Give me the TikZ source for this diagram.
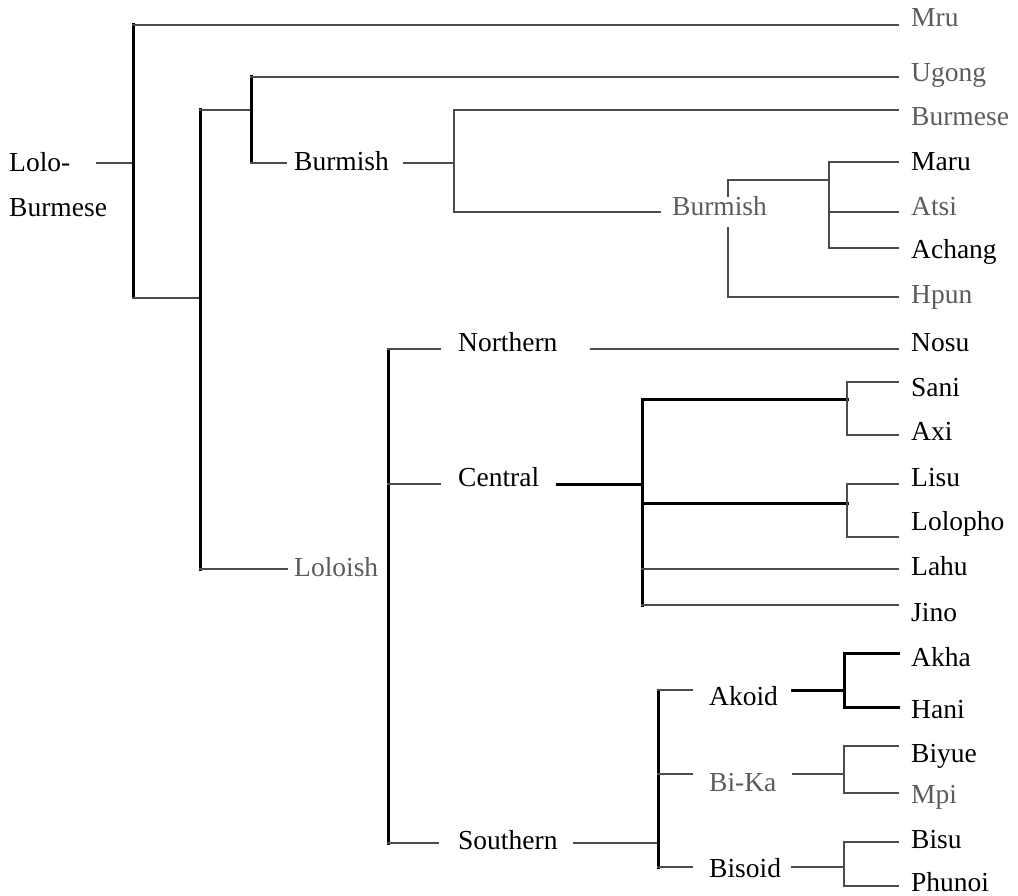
\documentclass[tikz,border=0pt]{standalone}
\usepackage{fontspec}
\setmainfont{Liberation Serif}
\definecolor{linegray}{gray}{0.30}
\definecolor{txtgray}{gray}{0.36}
\newcommand{\lbl}{\fontsize{27.5}{45}\selectfont}

\begin{document}
\begin{tikzpicture}[x=1pt, y=-1pt,
  dk/.style={draw=black, line width=3pt, line cap=rect},
  lt/.style={draw=linegray, line width=2.1pt, line cap=rect},
  lab/.style={anchor=base west, inner sep=0pt, font=\lbl, text=black},
  leaf/.style={anchor=base west, inner xsep=13pt, inner ysep=0pt, font=\lbl, text=black},
  dim/.style={text=txtgray}]
\path[use as bounding box] (0,0) rectangle (1018,896);

% ---------- labels ----------
\node[anchor=north west, inner sep=0pt, align=left, font=\lbl] (lb) at (9,152) {Lolo-\\Burmese};
\node[lab] (bur1) at (294,171) {Burmish};
\node[lab, dim] (bur2) at (672,216) {Burmish};
\node[lab, dim] (lol) at (294,576) {Loloish};
\node[lab] (nor) at (458,352) {Northern};
\node[lab] (cen) at (458,486) {Central};
\node[lab] (sou) at (458,849) {Southern};
\node[lab] (ako) at (709,705) {Akoid};
\node[lab, dim] (bik) at (709,791) {Bi-Ka};
\node[lab] (bis) at (709,877) {Bisoid};

\node[leaf, dim] (mru) at (898,27) {Mru};
\node[leaf, dim] (ugo) at (898,82) {Ugong};
\node[leaf, dim] (bme) at (898,126) {Burmese};
\node[leaf] (mar) at (898,171) {Maru};
\node[leaf, dim] (ats) at (898,216) {Atsi};
\node[leaf] (ach) at (898,259) {Achang};
\node[leaf, dim] (hpu) at (898,304) {Hpun};
\node[leaf] (nos) at (898,351) {Nosu};
\node[leaf] (san) at (898,396) {Sani};
\node[leaf] (axi) at (898,440) {Axi};
\node[leaf] (lis) at (898,486) {Lisu};
\node[leaf] (lop) at (898,530) {Lolopho};
\node[leaf] (lah) at (898,575) {Lahu};
\node[leaf] (jin) at (898,621) {Jino};
\node[leaf] (akh) at (898,666) {Akha};
\node[leaf] (han) at (898,718) {Hani};
\node[leaf] (biy) at (898,762) {Biyue};
\node[leaf, dim] (mpi) at (898,803) {Mpi};
\node[leaf] (bsu) at (898,848) {Bisu};
\node[leaf] (phu) at (898,891) {Phunoi};

% ---------- junction points ----------
\coordinate (r0) at (97,163);
\coordinate (rt) at (133,25);  \coordinate (rj) at (133,163); \coordinate (rb) at (133,298);
\coordinate (at) at (200,110); \coordinate (ab) at (200,298); \coordinate (al) at (200,569);
\coordinate (bt) at (251,77);  \coordinate (bm) at (251,110); \coordinate (bb) at (251,163);
\coordinate (ct) at (454,110); \coordinate (cm) at (454,163); \coordinate (cb) at (454,212);
\coordinate (dt) at (728,180); \coordinate (du) at (728,196);
\coordinate (dl) at (728,228); \coordinate (db) at (728,297);
\coordinate (et) at (829,162); \coordinate (em) at (829,180);
\coordinate (ea) at (829,212); \coordinate (eb) at (829,248);
\coordinate (ft) at (388,349); \coordinate (fm) at (388,484); \coordinate (fb) at (388,843);
\coordinate (gm) at (642,484); \coordinate (gt) at (642,399); \coordinate (g2) at (642,503);
\coordinate (g3) at (642,569); \coordinate (gb) at (642,605);
\coordinate (ht) at (847,382); \coordinate (hm) at (847,399); \coordinate (hb) at (847,435);
\coordinate (it) at (847,484); \coordinate (im) at (847,503); \coordinate (ib) at (847,537);
\coordinate (sj) at (658,843); \coordinate (st) at (658,690); \coordinate (s2) at (658,774);
\coordinate (sb) at (658,867);
\coordinate (kt) at (844,653); \coordinate (km) at (844,690); \coordinate (kb) at (844,707);
\coordinate (lt1) at (844,746); \coordinate (lm) at (844,774); \coordinate (lb1) at (844,793);
\coordinate (mt) at (844,842); \coordinate (mm) at (844,867); \coordinate (mb) at (844,886);

% ---------- Lolo-Burmese root ----------
\draw[lt] (r0) -- (rj);
\draw[dk] (rt) -- (rb);
\draw[lt] (rt) -- (rt -| mru.west);
\draw[lt] (rb) -- (ab);
\draw[dk] (at) -- (al);

% ---------- Burmish branch ----------
\draw[lt] (at) -- (bm);
\draw[dk] (bt) -- (bb);
\draw[lt] (bt) -- (bt -| ugo.west);
\draw[lt, shorten >=8pt] (bb) -- (bb -| bur1.west);
\draw[lt, shorten <=15pt] (bb -| bur1.east) -- (cm);
\draw[lt] (ct) -- (cb);
\draw[lt] (ct) -- (ct -| bme.west);
\draw[lt, shorten >=12pt] (cb) -- (cb -| bur2.west);
\draw[lt] (dt) -- (du);
\draw[lt] (dl) -- (db);
\draw[lt] (dt) -- (em);
\draw[lt] (db) -- (db -| hpu.west);
\draw[lt] (et) -- (eb);
\draw[lt] (et) -- (et -| mar.west);
\draw[lt] (ea) -- (ea -| ats.west);
\draw[lt] (eb) -- (eb -| ach.west);

% ---------- Loloish branch ----------
\draw[lt, shorten >=7pt] (al) -- (al -| lol.west);
\draw[dk] (ft) -- (fb);
\draw[lt, shorten >=18pt] (ft) -- (ft -| nor.west);
\draw[lt, shorten >=18pt] (fm) -- (fm -| cen.west);
\draw[lt, shorten >=20pt] (fb) -- (fb -| sou.west);

% Northern
\draw[lt, shorten <=33pt] (ft -| nor.east) -- (ft -| nos.west);

% Central
\draw[dk, shorten <=18pt] (fm -| cen.east) -- (gm);
\draw[dk] (gt) -- (gb);
\draw[dk] (gt) -- (hm);
\draw[dk] (g2) -- (im);
\draw[lt] (ht) -- (hb);
\draw[lt] (ht) -- (ht -| san.west);
\draw[lt] (hb) -- (hb -| axi.west);
\draw[lt] (it) -- (ib);
\draw[lt] (it) -- (it -| lis.west);
\draw[lt] (ib) -- (ib -| lop.west);
\draw[lt] (g3) -- (g3 -| lah.west);
\draw[lt] (gb) -- (gb -| jin.west);

% Southern
\draw[lt, shorten <=16pt] (fb -| sou.east) -- (sj);
\draw[dk] (st) -- (sb);
\draw[lt, shorten >=17pt] (st) -- (st -| ako.west);
\draw[lt, shorten >=17pt] (s2) -- (s2 -| bik.west);
\draw[lt, shorten >=17pt] (sb) -- (sb -| bis.west);

\draw[dk, shorten <=14pt] (km -| ako.east) -- (km);
\draw[dk] (kt) -- (kb);
\draw[dk] (kt) -- (kt -| akh.west);
\draw[dk] (kb) -- (kb -| han.west);

\draw[lt, shorten <=16pt] (lm -| bik.east) -- (lm);
\draw[lt] (lt1) -- (lb1);
\draw[lt] (lt1) -- (lt1 -| biy.west);
\draw[lt] (lb1) -- (lb1 -| mpi.west);

\draw[lt, shorten <=11pt] (mm -| bis.east) -- (mm);
\draw[lt] (mt) -- (mb);
\draw[lt] (mt) -- (mt -| bsu.west);
\draw[lt] (mb) -- (mb -| phu.west);
\end{tikzpicture}
\end{document}
